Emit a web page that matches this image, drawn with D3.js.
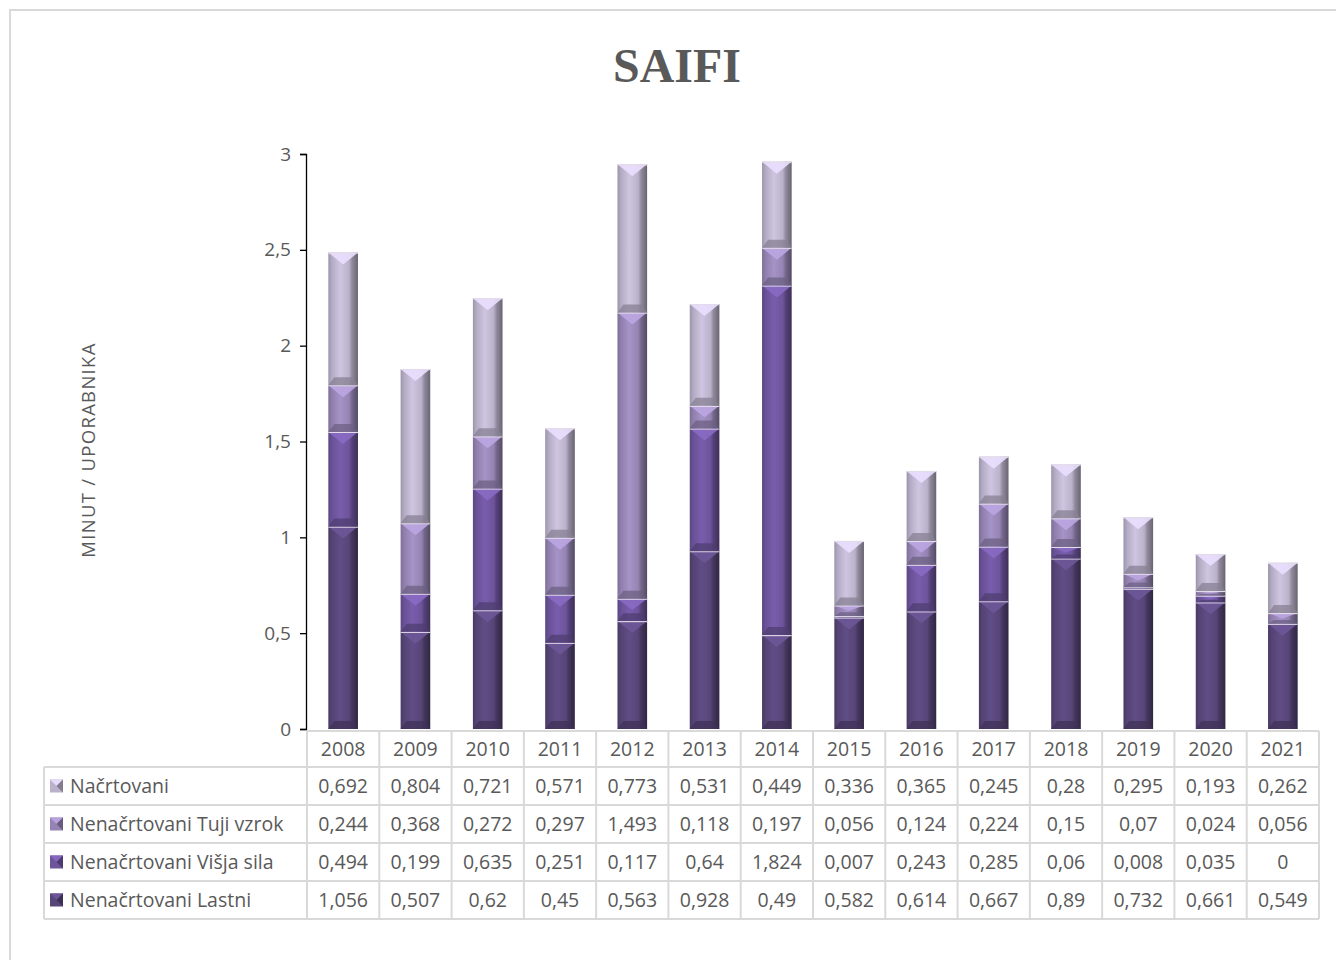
<!DOCTYPE html>
<html>
<head>
<meta charset="utf-8">
<script src="https://cdn.jsdelivr.net/npm/d3@7"></script>
<style>
  body { margin: 0; background: #fff; }
  svg { display: block; }
</style>
</head>
<body>
<svg class="svg"></svg>
<script>
// data
const years = ["2008", "2009", "2010", "2011", "2012", "2013", "2014", "2015", "2016", "2017", "2018", "2019", "2020", "2021"];
const lastni = [1.056, 0.507, 0.62, 0.45, 0.563, 0.928, 0.49, 0.582, 0.614, 0.667, 0.89, 0.732, 0.661, 0.549];
const visjaSila = [0.494, 0.199, 0.635, 0.251, 0.117, 0.64, 1.824, 0.007, 0.243, 0.285, 0.06, 0.008, 0.035, 0];
const tujiVzrok = [0.244, 0.368, 0.272, 0.297, 1.493, 0.118, 0.197, 0.056, 0.124, 0.224, 0.15, 0.07, 0.024, 0.056];
const nacrtovani = [0.692, 0.804, 0.721, 0.571, 0.773, 0.531, 0.449, 0.336, 0.365, 0.245, 0.28, 0.295, 0.193, 0.262];
const yTicks = [0, 0.5, 1, 1.5, 2, 2.5, 3];

// stacking order bottom -> top
const series = [
  { key: "lastni", name: "Nenačrtovani Lastni", values: lastni, color: "#574578" },
  { key: "visja", name: "Nenačrtovani Višja sila", values: visjaSila, color: "#6d549b" },
  { key: "tuji", name: "Nenačrtovani Tuji vzrok", values: tujiVzrok, color: "#9584b3" },
  { key: "nacrt", name: "Načrtovani", values: nacrtovani, color: "#bab1ca" }
];

const W = 1336, H = 960;
const m = { left: 307, right: 1319, top: 154, bottom: 729 };
const textColor = "#595959";
const gridColor = "#d9d9d9";
const fmt = v => String(v).replace(".", ",");

const svg = d3.select(".svg").attr("width", W).attr("height", H);

// chart frame
svg.append("path")
  .attr("d", `M10,${H + 5} V10 H${W + 5}`)
  .attr("fill", "none")
  .attr("stroke", gridColor)
  .attr("stroke-width", 2);

// title
svg.append("text")
  .attr("x", 677).attr("y", 82)
  .attr("text-anchor", "middle")
  .attr("font-family", "'Liberation Serif', 'DejaVu Serif', serif")
  .attr("font-weight", "bold")
  .attr("font-size", 48)
  .attr("fill", textColor)
  .text("SAIFI");

const x = d3.scaleBand().domain(years).range([m.left, m.right]);
const y = d3.scaleLinear().domain([0, 3]).range([m.bottom, m.top]);
const barW = x.bandwidth() * 0.41;

// y axis
const yAxis = svg.append("g")
  .attr("transform", `translate(${m.left - 1},0)`)
  .call(d3.axisLeft(y).tickValues(yTicks).tickSize(6).tickPadding(9).tickFormat(fmt));
yAxis.select(".domain").attr("stroke", "#000").attr("stroke-width", 1.3);
yAxis.selectAll(".tick line").attr("stroke", "#000").attr("stroke-width", 1.3);
yAxis.selectAll(".tick text")
  .attr("font-family", "'Open Sans', sans-serif")
  .attr("font-size", 19)
  .attr("fill", textColor);

svg.append("text")
  .attr("transform", "translate(95,450) rotate(-90)")
  .attr("text-anchor", "middle")
  .attr("font-family", "'Open Sans', sans-serif")
  .attr("font-size", 18.5)
  .attr("letter-spacing", 1.3)
  .attr("fill", textColor)
  .text("MINUT / UPORABNIKA");

// gradients for bevelled bars
const defs = svg.append("defs");
series.forEach(s => {
  const c = d3.color(s.color);
  const g = defs.append("linearGradient").attr("id", "grad-" + s.key)
    .attr("x1", "0%").attr("x2", "100%").attr("y1", "0%").attr("y2", "0%");
  g.append("stop").attr("offset", "0%").attr("stop-color", c.darker(0.5));
  g.append("stop").attr("offset", "12%").attr("stop-color", c.darker(0.1));
  g.append("stop").attr("offset", "40%").attr("stop-color", c.brighter(0.3));
  g.append("stop").attr("offset", "70%").attr("stop-color", c);
  g.append("stop").attr("offset", "80%").attr("stop-color", c.darker(0.7));
  g.append("stop").attr("offset", "100%").attr("stop-color", c.darker(1.6));
});

const stack = d3.stack().keys(series.map(s => s.key));
const rows = years.map((yr, i) => {
  const r = { year: yr };
  series.forEach(s => { r[s.key] = s.values[i]; });
  return r;
});
const stacked = stack(rows);

const bars = svg.append("g");
stacked.forEach((layer, li) => {
  const s = series[li];
  const c = d3.color(s.color);
  layer.forEach((d, i) => {
    const v = d[1] - d[0];
    if (v <= 0) return;
    const x0 = x(years[i]) + (x.bandwidth() - barW) / 2;
    const x1 = x0 + barW;
    const yt = y(d[1]), yb = y(d[0]);
    const h = yb - yt;
    const xc = (x0 + x1) / 2;
    const g = bars.append("g");
    g.append("rect")
      .attr("x", x0).attr("y", yt).attr("width", barW).attr("height", h)
      .attr("fill", `url(#grad-${s.key})`);
    // top bevel (triangle)
    const dt = Math.min(12, h * 0.5);
    g.append("polygon")
      .attr("points", `${x0},${yt} ${x1},${yt} ${xc},${yt + dt}`)
      .attr("fill", c.brighter(0.65))
      .attr("opacity", 0.9);
    // bottom bevel (trapezoid)
    const db = Math.min(8, h * 0.35);
    const inset = Math.min(6, barW / 2);
    g.append("polygon")
      .attr("points", `${x0},${yb} ${x1},${yb} ${x1 - inset},${yb - db} ${x0 + inset},${yb - db}`)
      .attr("fill", c.darker(0.9))
      .attr("opacity", 0.75);
    // light separator on top edge
    g.append("line")
      .attr("x1", x0).attr("x2", x1).attr("y1", yt + 0.5).attr("y2", yt + 0.5)
      .attr("stroke", "#e2dcea").attr("stroke-width", 1.2);
  });
});

// data table
const tbl = svg.append("g").attr("font-family", "'Open Sans', sans-serif").attr("fill", textColor);
const headTop = 731, headBot = 767, rowH = 38;
const legendLeft = 44;
const tableRows = series.slice().reverse();
const tableBot = headBot + rowH * tableRows.length;

// header cells
tbl.append("line").attr("x1", m.left).attr("x2", m.right).attr("y1", headTop).attr("y2", headTop)
  .attr("stroke", gridColor).attr("stroke-width", 2);
// horizontal row lines
for (let r = 0; r <= tableRows.length; r++) {
  const yy = headBot + r * rowH;
  tbl.append("line").attr("x1", legendLeft).attr("x2", m.right).attr("y1", yy).attr("y2", yy)
    .attr("stroke", gridColor).attr("stroke-width", 2);
}
// vertical lines
years.forEach(yr => {
  tbl.append("line").attr("x1", x(yr)).attr("x2", x(yr)).attr("y1", headTop).attr("y2", tableBot)
    .attr("stroke", gridColor).attr("stroke-width", 2);
});
tbl.append("line").attr("x1", m.right).attr("x2", m.right).attr("y1", headTop).attr("y2", tableBot)
  .attr("stroke", gridColor).attr("stroke-width", 2);
tbl.append("line").attr("x1", legendLeft).attr("x2", legendLeft).attr("y1", headBot).attr("y2", tableBot)
  .attr("stroke", gridColor).attr("stroke-width", 2);

tbl.selectAll("text.year")
  .data(years)
  .join("text")
  .attr("class", "year")
  .attr("x", d => x(d) + x.bandwidth() / 2)
  .attr("y", (headTop + headBot) / 2)
  .attr("dy", "0.36em")
  .attr("text-anchor", "middle")
  .attr("font-size", 19.5)
  .text(d => d);

tableRows.forEach((s, r) => {
  const cy = headBot + r * rowH + rowH / 2;
  const c = d3.color(s.color);
  // legend key with small bevel
  const kx = 50, ks = 13;
  tbl.append("rect").attr("x", kx).attr("y", cy - ks / 2).attr("width", ks).attr("height", ks)
    .attr("fill", c);
  tbl.append("polygon")
    .attr("points", `${kx},${cy - ks / 2} ${kx + ks},${cy - ks / 2} ${kx + ks / 2},${cy}`)
    .attr("fill", c.brighter(0.6));
  tbl.append("polygon")
    .attr("points", `${kx + ks},${cy - ks / 2} ${kx + ks},${cy + ks / 2} ${kx + ks / 2},${cy}`)
    .attr("fill", c.darker(1));
  tbl.append("text")
    .attr("x", 70).attr("y", cy).attr("dy", "0.36em")
    .attr("font-size", 19.5)
    .text(s.name);
  tbl.selectAll(null)
    .data(s.values)
    .join("text")
    .attr("x", (d, i) => x(years[i]) + x.bandwidth() / 2)
    .attr("y", cy)
    .attr("dy", "0.36em")
    .attr("text-anchor", "middle")
    .attr("font-size", 19.5)
    .text(d => fmt(d));
});
</script>
</body>
</html>
